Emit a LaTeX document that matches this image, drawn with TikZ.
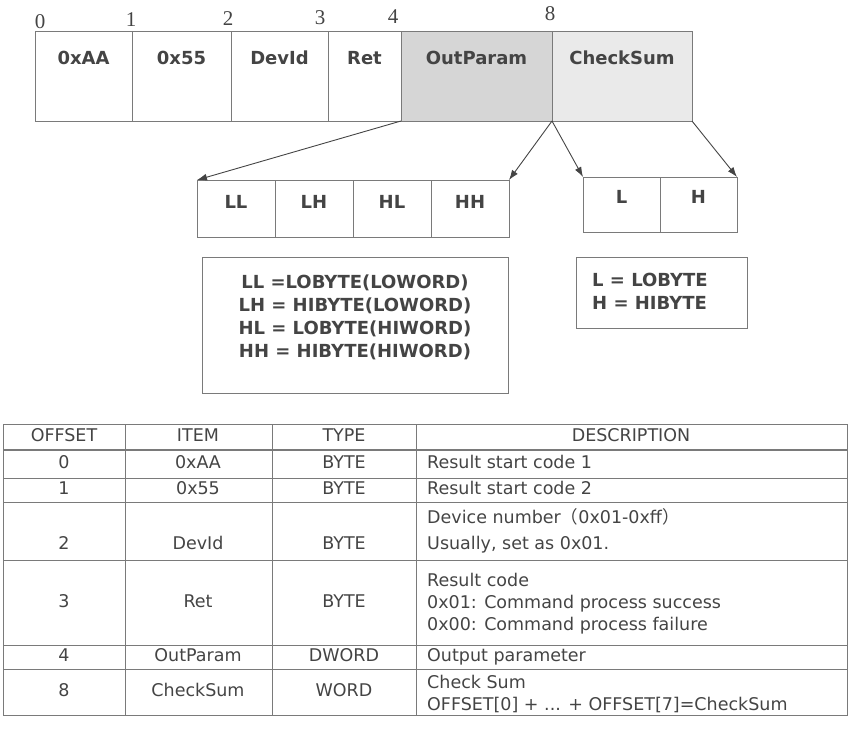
\documentclass[tikz,border=0pt]{standalone}
\usepackage{fontspec}
\setmainfont{DejaVu Sans}
\newfontfamily\numfont{Liberation Serif}
\newfontfamily\cjk{Noto Sans CJK SC}
\usetikzlibrary{arrows.meta,positioning}
\definecolor{textGray}{HTML}{444444}
\definecolor{lineGray}{HTML}{7A7A7A}
\definecolor{paramGray}{HTML}{D6D6D6}
\definecolor{sumGray}{HTML}{EAEAEA}
\begin{document}
\begin{tikzpicture}
[x=1pt,y=-1pt,
field/.style={draw=lineGray,line width=0.9pt,inner sep=0pt,outer sep=0pt,minimum width=#1,text height=33pt,text depth=57pt,font=\bfseries\fontsize{18}{22}\selectfont,text=textGray},
subField/.style={field=#1,text height=28pt,text depth=29pt},
offsetLabel/.style={inner sep=0pt,font=\numfont\fontsize{21}{24}\selectfont,text=textGray},
pointer/.style={draw=textGray,line width=0.9pt,-{Latex[length=10pt,width=7pt]}},
legendBox/.style={draw=lineGray,line width=0.9pt,inner sep=0pt,outer sep=0pt},
legendText/.style={inner sep=0pt,font=\bfseries\fontsize{18}{23}\selectfont,text=textGray},
tableLine/.style={draw=lineGray,line width=0.9pt},
cellText/.style={inner sep=0pt,text height=13pt,text depth=4pt,font=\fontsize{17.5}{22}\selectfont,text=textGray},
descText/.style={cellText,anchor=west},
]
\useasboundingbox (0,0) rectangle (851,728);
% frame fields
\node[field=97pt,anchor=north west] (aa) at (35,31) {0xAA};
\node[field=99pt,right=0pt of aa] (x55) {0x55};
\node[field=97pt,right=0pt of x55] (devid) {DevId};
\node[field=73pt,right=0pt of devid] (ret) {Ret};
\node[field=151pt,fill=paramGray,right=0pt of ret] (outparam) {OutParam};
\node[field=140pt,fill=sumGray,right=0pt of outparam] (checksum) {CheckSum};
% byte offsets
\node[offsetLabel] (off0) at (40,22) {0};
\node[offsetLabel] (off1) at (131,20) {1};
\node[offsetLabel] (off2) at (228,19) {2};
\node[offsetLabel] (off3) at (320,18) {3};
\node[offsetLabel] (off4) at (393,17) {4};
\node[offsetLabel] (off8) at (550,14) {8};
% OutParam bytes
\node[subField=78pt,anchor=north west] (ll) at (197,180) {LL};
\node[subField=78pt,right=0pt of ll] (lh) {LH};
\node[subField=78pt,right=0pt of lh] (hl) {HL};
\node[subField=78pt,right=0pt of hl] (hh) {HH};
% CheckSum bytes
\node[subField=77pt,text height=26pt,text depth=29pt,anchor=north west] (lo) at (583,177) {L};
\node[subField=77pt,text height=26pt,text depth=29pt,right=0pt of lo] (hi) {H};
\draw[pointer] (outparam.south west) -- (ll.north west);
\draw[pointer] (outparam.south east) -- (hh.north east);
\draw[pointer] (checksum.south west) -- (lo.north west);
\draw[pointer] (checksum.south east) -- (hi.north east);
% legends
\node[legendBox,minimum width=306pt,minimum height=136pt,anchor=north west] (wordLegend) at (202,257) {};
\node[legendText,align=center,below=18pt of wordLegend.north] (wordLegendText) {LL =LOBYTE(LOWORD)\\LH = HIBYTE(LOWORD)\\HL = LOBYTE(HIWORD)\\HH = HIBYTE(HIWORD)};
\node[legendBox,minimum width=171pt,minimum height=71pt,anchor=north west] (byteLegend) at (576,257) {};
\node[legendText,align=left,below right=16pt and 16pt of byteLegend.north west] (byteLegendText) {L = LOBYTE\\H = HIBYTE};
% table grid
\draw[tableLine] (3,424) rectangle (847,715);
\draw[tableLine,line width=1.8pt] (3,450) -- (847,450);
\draw[tableLine] (3,478) -- (847,478);
\draw[tableLine] (3,502) -- (847,502);
\draw[tableLine] (3,560) -- (847,560);
\draw[tableLine] (3,645) -- (847,645);
\draw[tableLine] (3,669) -- (847,669);
\draw[tableLine] (125,424) -- (125,715);
\draw[tableLine] (272,424) -- (272,715);
\draw[tableLine] (416,424) -- (416,715);
% header
\node[cellText] (hOffset) at (64,437) {OFFSET};
\node[cellText] (hItem) at (198,437) {ITEM};
\node[cellText] (hType) at (344,437) {TYPE};
\node[cellText] (hDesc) at (631,437) {DESCRIPTION};
% rows
\node[cellText] (r0Offset) at (64,464) {0};
\node[cellText] (r0Item) at (198,464) {0xAA};
\node[cellText] (r0Type) at (344,464) {BYTE};
\node[descText] (r0Desc) at (427,464) {Result start code 1};
\node[cellText] (r1Offset) at (64,490) {1};
\node[cellText] (r1Item) at (198,490) {0x55};
\node[cellText] (r1Type) at (344,490) {BYTE};
\node[descText] (r1Desc) at (427,490) {Result start code 2};
\node[cellText] (r2Offset) at (64,545) {2};
\node[cellText] (r2Item) at (198,545) {DevId};
\node[cellText] (r2Type) at (344,545) {BYTE};
\node[descText] (r2DescA) at (427,519) {Device number{\cjk （}0x01-0xff{\cjk ）}};
\node[descText] (r2DescB) at (427,545) {Usually, set as 0x01.};
\node[cellText] (r3Offset) at (64,603) {3};
\node[cellText] (r3Item) at (198,603) {Ret};
\node[cellText] (r3Type) at (344,603) {BYTE};
\node[descText] (r3DescA) at (427,582) {Result code};
\node[descText] (r3DescB) at (427,604) {0x01: Command process success};
\node[descText] (r3DescC) at (427,626) {0x00: Command process failure};
\node[cellText] (r4Offset) at (64,657) {4};
\node[cellText] (r4Item) at (198,657) {OutParam};
\node[cellText] (r4Type) at (344,657) {DWORD};
\node[descText] (r4Desc) at (427,657) {Output parameter};
\node[cellText] (r5Offset) at (64,692) {8};
\node[cellText] (r5Item) at (198,692) {CheckSum};
\node[cellText] (r5Type) at (344,692) {WORD};
\node[descText] (r5DescA) at (427,684) {Check Sum};
\node[descText] (r5DescB) at (427,706) {OFFSET[0] + ... + OFFSET[7]=CheckSum};
\end{tikzpicture}
\end{document}
